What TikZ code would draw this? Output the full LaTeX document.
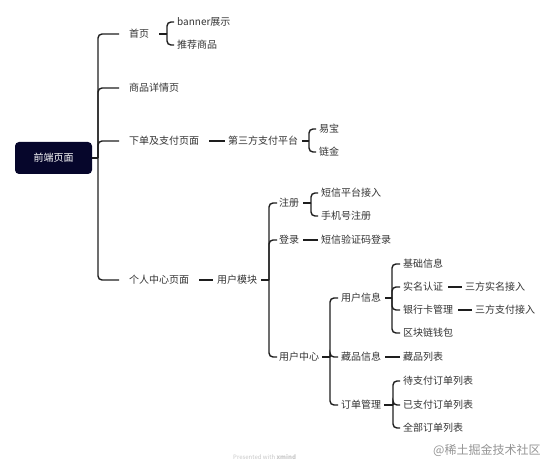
\documentclass[tikz,border=0pt]{standalone}
\usepackage{fontspec}
\setmainfont{Noto Sans CJK SC}
\definecolor{rootfill}{HTML}{06062B}
\definecolor{txt}{HTML}{333333}
\definecolor{ln}{HTML}{1E1E1E}
\begin{document}
\begin{tikzpicture}[x=1pt,y=-1pt,
  topic/.style={anchor=west,inner sep=0pt,text=txt,font=\fontsize{10pt}{12pt}\selectfont},
  rootbox/.style={fill=rootfill,rounded corners=4pt,minimum width=77pt,minimum height=32pt,inner sep=0pt,text=white,font=\fontsize{10pt}{12pt}\selectfont},
  conn/.style={draw=ln,line width=1.4pt,rounded corners=4pt},
  mark1/.style={text=black!22,font=\fontsize{6pt}{7pt}\selectfont,anchor=west,inner sep=0pt},
  mark2/.style={text=black!42,font=\fontsize{12pt}{14pt}\selectfont,anchor=west,inner sep=0pt}]
\useasboundingbox (0,0) rectangle (553,470);
% root
\node[rootbox] (root) at (53.5,158) {前端页面};
% main topics
\node[topic] (n1) at (129,34) {首页};
\node[topic] (n11) at (177,22) {banner展示};
\node[topic] (n12) at (177,45) {推荐商品};
\node[topic] (n2) at (129,88) {商品详情页};
\node[topic] (n3) at (129,141) {下单及支付页面};
\node[topic] (n31) at (228,141) {第三方支付平台};
\node[topic] (n311) at (319,129) {易宝};
\node[topic] (n312) at (319,152) {链金};
\node[topic] (n4) at (129,280) {个人中心页面};
\node[topic] (n41) at (217,280) {用户模块};
\node[topic] (n411) at (279,203) {注册};
\node[topic] (n4111) at (321,193) {短信平台接入};
\node[topic] (n4112) at (321,216) {手机号注册};
\node[topic] (n412) at (279,240) {登录};
\node[topic] (n4121) at (321,240) {短信验证码登录};
\node[topic] (n413) at (279,357) {用户中心};
\node[topic] (a) at (341,298) {用户信息};
\node[topic] (a1) at (403,264) {基础信息};
\node[topic] (a2) at (403,287) {实名认证};
\node[topic] (a21) at (465,287) {三方实名接入};
\node[topic] (a3) at (403,310) {银行卡管理};
\node[topic] (a31) at (475,310) {三方支付接入};
\node[topic] (a4) at (403,333) {区块链钱包};
\node[topic] (b) at (341,357) {藏品信息};
\node[topic] (b1) at (403,357) {藏品列表};
\node[topic] (c) at (341,405) {订单管理};
\node[topic] (c1) at (403,381) {待支付订单列表};
\node[topic] (c2) at (403,405) {已支付订单列表};
\node[topic] (c3) at (403,428) {全部订单列表};
% watermarks
\node[mark1] (wm1) at (233,457) {Presented with \textbf{xmind}};
\node[mark2] (wm2) at (433,450) {@稀土掘金技术社区};
% joints
\coordinate (j0) at (98,158);
\coordinate (j1) at (167,34);
\coordinate (j31) at (309,141);
\coordinate (j41) at (269,280);
\coordinate (j411) at (311,203);
\coordinate (j413) at (330,357);
\coordinate (ja) at (392,298);
\coordinate (jc) at (393,405);
% root spine
\draw[conn] (root.east) -- (j0);
\foreach \c in {n1,n2,n3,n4} \draw[conn] (j0) |- ([xshift=-10pt]\c.west);
% 首页
\draw[conn] ([xshift=10pt]n1.east) -- (j1);
\foreach \c in {n11,n12} \draw[conn] (j1) |- ([xshift=-3pt]\c.west);
% 下单及支付页面
\draw[conn] ([xshift=10pt]n3.east) -- ([xshift=-3pt]n31.west);
\draw[conn] ([xshift=4pt]n31.east) -- (j31);
\foreach \c in {n311,n312} \draw[conn] (j31) |- ([xshift=-3pt]\c.west);
% 个人中心页面
\draw[conn] ([xshift=10pt]n4.east) -- ([xshift=-4pt]n41.west);
\draw[conn] ([xshift=4pt]n41.east) -- (j41);
\foreach \c in {n411,n412,n413} \draw[conn] (j41) |- ([xshift=-2pt]\c.west);
% 注册
\draw[conn] ([xshift=4pt]n411.east) -- (j411);
\foreach \c in {n4111,n4112} \draw[conn] (j411) |- ([xshift=-3pt]\c.west);
% 登录
\draw[conn] ([xshift=4pt]n412.east) -- ([xshift=-3pt]n4121.west);
% 用户中心
\draw[conn] ([xshift=3pt]n413.east) -- (j413);
\foreach \c in {a,b,c} \draw[conn] (j413) |- ([xshift=-3pt]\c.west);
% 用户信息
\draw[conn] ([xshift=4pt]a.east) -- (ja);
\foreach \c in {a1,a2,a3,a4} \draw[conn] (ja) |- ([xshift=-3pt]\c.west);
\draw[conn] ([xshift=5pt]a2.east) -- ([xshift=-3pt]a21.west);
\draw[conn] ([xshift=5pt]a3.east) -- ([xshift=-3pt]a31.west);
% 藏品信息
\draw[conn] ([xshift=4pt]b.east) -- ([xshift=-3pt]b1.west);
% 订单管理
\draw[conn] ([xshift=3pt]c.east) -- (jc);
\foreach \c in {c1,c2,c3} \draw[conn] (jc) |- ([xshift=-3pt]\c.west);
\end{tikzpicture}
\end{document}
